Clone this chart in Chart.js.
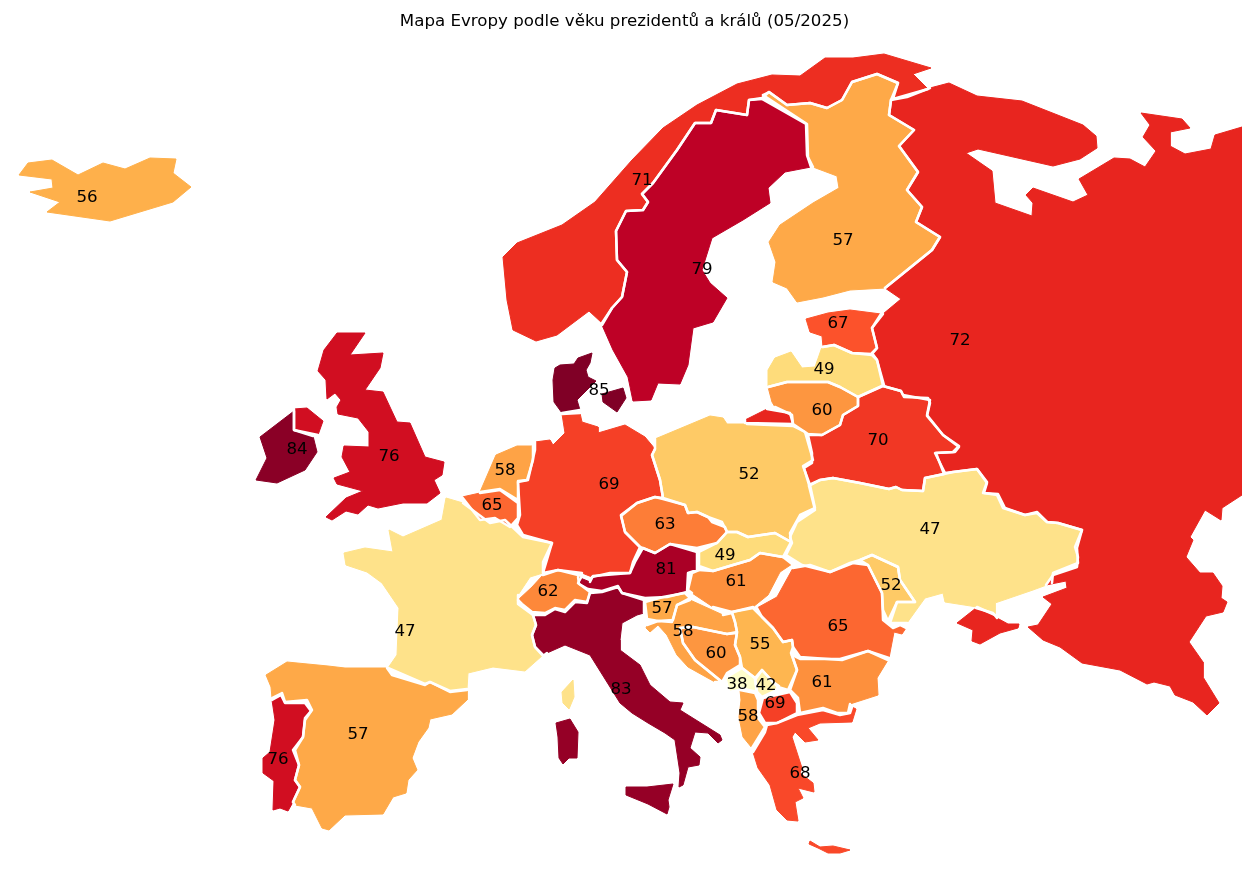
<!DOCTYPE html>
<html>
<head>
<meta charset="utf-8">
<title>Mapa Evropy</title>
<script src="https://cdn.jsdelivr.net/npm/chart.js@4/dist/chart.umd.min.js"></script>
<style>
  html, body { margin: 0; padding: 0; background: #fff; overflow: hidden; }
  canvas { display: block; }
</style>
</head>
<body>
<canvas id="mapChart" width="1242" height="882"></canvas>
<script>
// Country outlines in map units
const iceland = [[[19,175],[28,163],[52,160],[78,175],[103,163],[125,169],[150,158],[176,159],[173,173],[191,187],[173,202],[110,221],[47,212],[60,202],[30,192],[53,188],[52,179]]];
const norway = [[[503,257],[517,243],[562,225],[595,202],[632,160],[663,128],[697,105],[737,84],[772,75],[800,76],[825,58],[853,58],[884,54],[931,68],[913,74],[928,89],[893,99],[898,83],[877,74],[852,82],[842,100],[827,108],[810,103],[787,105],[769,92],[762,98],[749,100],[747,115],[716,110],[711,123],[695,123],[677,150],[653,183],[642,194],[648,202],[643,210],[626,211],[616,231],[617,260],[627,272],[622,297],[612,308],[602,323],[589,311],[557,335],[536,341],[513,330],[507,300]]];
const sweden = [[[762,99],[749,100],[747,115],[716,110],[711,123],[695,123],[677,150],[653,183],[642,194],[648,202],[643,210],[626,211],[616,231],[617,260],[627,272],[622,297],[612,308],[602,325],[613,350],[628,377],[633,401],[651,400],[658,383],[680,384],[688,365],[693,328],[713,322],[727,298],[710,283],[702,270],[712,238],[743,220],[770,203],[768,188],[785,172],[811,167],[807,155],[806,124]]];
const finland = [[[763,95],[769,92],[787,105],[810,103],[827,108],[842,100],[852,82],[877,74],[898,83],[891,100],[889,115],[914,130],[899,146],[918,172],[907,190],[922,207],[916,222],[940,237],[932,250],[885,288],[850,290],[823,297],[797,302],[787,288],[773,282],[776,262],[769,242],[780,225],[813,203],[839,188],[837,176],[813,167],[808,157],[807,124]]];
const russia = [
  [[891,100],[907,97],[930,88],[949,83],[977,96],[1022,101],[1083,125],[1096,136],[1097,148],[1080,159],[1053,166],[978,149],[966,153],[992,171],[995,203],[1032,216],[1033,203],[1026,195],[1033,188],[1073,202],[1088,195],[1079,179],[1114,158],[1130,159],[1145,167],[1156,151],[1143,137],[1150,125],[1141,113],[1182,119],[1190,128],[1170,132],[1170,146],[1185,154],[1211,149],[1215,135],[1242,127],[1242,495],[1222,508],[1221,520],[1205,510],[1190,537],[1193,540],[1186,557],[1200,573],[1213,573],[1222,586],[1221,598],[1227,602],[1223,612],[1206,616],[1189,642],[1203,662],[1203,677],[1219,703],[1207,715],[1193,702],[1175,695],[1170,686],[1154,682],[1147,684],[1120,670],[1082,663],[1060,647],[1043,640],[1028,627],[1038,625],[1052,604],[1043,597],[1067,588],[1066,581],[1046,585],[1053,575],[1077,567],[1078,557],[1075,547],[1082,530],[1058,523],[1047,522],[1037,513],[1025,515],[1003,508],[997,495],[984,493],[987,483],[977,469],[953,472],[945,473],[935,453],[955,452],[959,447],[943,435],[927,415],[930,400],[903,395],[901,391],[883,386],[877,360],[872,353],[877,348],[872,328],[883,314],[901,299],[885,288],[932,250],[940,237],[916,222],[922,207],[907,190],[918,172],[899,146],[914,130],[889,115]],
  [[745,420],[767,409],[790,413],[793,424],[745,423]],
  [[957,623],[976,608],[993,613],[997,618],[1008,624],[1019,624],[1018,628],[1000,633],[980,644],[972,641],[973,630]]
];
const uk = [
  [[337,333],[365,333],[350,355],[383,353],[380,368],[365,390],[383,392],[397,422],[410,423],[425,457],[444,462],[442,475],[434,480],[440,493],[427,503],[403,503],[378,508],[368,505],[358,514],[346,511],[332,520],[326,517],[346,498],[363,491],[337,484],[334,478],[350,472],[342,457],[344,446],[369,447],[369,432],[358,418],[338,414],[337,407],[341,400],[335,393],[327,399],[326,380],[318,371],[324,350]],
  [[294,409],[307,408],[323,421],[318,435],[294,430]]
];
const ireland = [[[294,411],[294,430],[313,436],[317,452],[305,470],[277,483],[256,480],[267,458],[260,437]]];
const denmark = [
  [[555,368],[560,365],[574,364],[578,358],[592,353],[590,363],[586,370],[588,377],[596,381],[577,400],[580,410],[562,413],[554,402],[553,380]],
  [[602,394],[623,388],[626,398],[617,412],[603,402]]
];
const estonia = [[[806,319],[828,313],[850,310],[881,314],[872,328],[877,348],[872,354],[852,353],[834,345],[823,347],[822,336],[810,332]]];
const latvia = [[[768,370],[775,358],[791,352],[802,368],[815,367],[822,347],[834,345],[852,353],[872,355],[877,360],[884,385],[858,397],[840,387],[828,382],[808,382],[787,382],[768,387]]];
const lithuania = [[[768,387],[787,382],[828,382],[840,387],[858,397],[858,406],[843,415],[840,425],[822,435],[808,434],[793,424],[792,415],[775,407],[772,402]]];
const belarus = [[[858,397],[883,386],[901,391],[904,397],[928,398],[930,403],[927,416],[943,435],[959,446],[953,452],[936,453],[944,474],[925,478],[923,491],[902,490],[896,487],[889,489],[860,483],[833,478],[820,480],[809,485],[804,468],[812,463],[812,453],[808,435],[822,435],[840,425],[843,415],[858,406]]];
const ukraine = [[[809,486],[820,480],[833,478],[860,483],[889,489],[896,487],[902,490],[923,491],[925,478],[944,474],[953,472],[977,469],[987,482],[983,493],[998,494],[1005,508],[1025,515],[1037,512],[1047,522],[1058,523],[1082,530],[1077,548],[1078,563],[1053,573],[1052,583],[1033,590],[995,603],[995,615],[977,607],[945,602],[943,593],[925,598],[907,623],[890,623],[897,602],[915,602],[900,580],[898,567],[872,555],[860,560],[850,563],[830,572],[802,565],[786,555],[792,543],[790,537],[797,522],[815,510]]];
const moldova = [[[860,560],[872,555],[898,567],[900,580],[915,602],[897,602],[888,621],[883,610],[882,593],[868,565]]];
const poland = [[[655,439],[710,416],[723,418],[727,424],[747,424],[793,426],[805,432],[813,460],[803,466],[810,485],[815,508],[800,515],[790,533],[791,542],[775,533],[748,537],[737,532],[727,532],[722,522],[708,517],[697,512],[688,513],[685,505],[663,498],[660,480],[652,455],[655,449]]];
const germany = [[[562,414],[580,413],[582,422],[598,427],[598,433],[625,425],[645,437],[655,449],[652,455],[660,480],[663,498],[655,497],[637,503],[621,515],[625,532],[640,547],[633,562],[630,573],[610,573],[592,577],[582,573],[558,570],[543,573],[552,543],[523,535],[517,525],[520,515],[518,482],[528,480],[535,450],[535,442],[550,440],[553,445],[565,433]]];
const netherlands = [[[480,492],[496,455],[517,446],[533,446],[533,460],[527,480],[518,481],[518,500],[500,489]]];
const belgium = [[[462,497],[480,493],[500,490],[518,503],[518,518],[510,527],[495,518],[480,520]]];
const france = [
  [[344,553],[365,548],[393,552],[389,530],[403,537],[442,520],[446,498],[463,503],[490,523],[505,520],[523,537],[552,543],[543,562],[543,573],[530,577],[518,595],[518,604],[533,615],[536,625],[532,635],[535,647],[543,655],[525,671],[493,667],[468,673],[467,689],[450,691],[430,682],[425,684],[388,668],[397,655],[399,608],[382,583],[367,572],[346,565]],
  [[573,680],[574,697],[569,709],[563,703],[562,692]]
];
const spain = [[[266,675],[287,662],[328,666],[345,668],[387,668],[392,675],[425,685],[430,682],[450,692],[467,690],[467,700],[452,714],[430,719],[428,728],[418,742],[412,758],[417,770],[408,780],[406,793],[393,797],[383,814],[345,815],[329,830],[322,828],[312,808],[295,805],[293,802],[300,787],[295,780],[299,765],[293,750],[303,737],[305,720],[312,710],[307,700],[285,702],[282,693],[272,698],[271,687]]];
const portugal = [[[272,700],[281,695],[285,703],[305,703],[311,711],[305,718],[303,737],[295,750],[299,765],[295,780],[300,787],[293,802],[288,811],[280,808],[273,810],[274,781],[263,773],[263,758],[270,752],[275,720]]];
const switzerland = [[[518,600],[532,587],[543,575],[558,570],[582,576],[578,583],[590,592],[587,602],[575,600],[565,610],[555,608],[545,613],[532,612],[522,604]]];
const austria = [[[578,577],[590,582],[593,576],[630,573],[635,562],[643,548],[655,553],[670,544],[697,552],[697,570],[688,573],[687,592],[667,597],[645,598],[622,593],[618,586],[602,591],[588,589],[579,584]]];
const italy = [
  [[533,615],[545,615],[555,609],[565,612],[575,602],[587,603],[590,593],[602,592],[618,587],[622,593],[644,600],[644,613],[637,615],[622,623],[620,640],[620,650],[640,665],[650,685],[670,702],[683,703],[680,710],[720,735],[722,740],[718,743],[708,733],[695,732],[690,748],[700,757],[699,765],[688,767],[683,785],[679,787],[680,773],[675,740],[665,733],[648,723],[632,713],[620,703],[590,655],[565,645],[547,653],[543,656],[535,647],[532,635],[536,625]],
  [[556,723],[570,719],[578,732],[577,758],[569,758],[563,764],[559,758],[558,737]],
  [[626,787],[647,787],[673,784],[668,800],[669,807],[667,814],[648,804],[626,795]]
];
const czechia = [[[621,516],[637,503],[655,497],[663,499],[685,505],[688,513],[697,512],[708,517],[712,522],[725,527],[727,532],[717,543],[697,548],[670,544],[655,553],[640,547],[625,532]]];
const slovakia = [[[699,552],[717,543],[727,532],[737,532],[748,537],[775,533],[791,542],[783,557],[760,553],[750,560],[733,565],[713,571],[699,566]]];
const hungary = [[[699,570],[713,571],[733,565],[750,560],[760,553],[783,557],[792,564],[780,572],[768,595],[753,607],[732,612],[713,607],[692,593],[688,590],[692,573]]];
const slovenia = [[[645,602],[647,619],[658,621],[673,620],[677,605],[690,598],[685,593],[663,597]]];
const croatia = [[[647,625],[658,621],[672,622],[677,605],[690,600],[723,615],[732,613],[735,622],[737,632],[727,634],[693,627],[680,628],[683,643],[695,660],[722,682],[715,682],[688,667],[677,655],[667,635],[658,625],[650,632],[646,628]]];
const bosnia = [[[680,628],[693,627],[727,634],[737,633],[735,645],[740,657],[740,665],[727,673],[722,682],[695,660],[683,643]]];
const serbia = [[[732,612],[753,608],[762,617],[773,628],[783,642],[792,640],[793,647],[791,653],[797,670],[788,690],[778,687],[773,682],[762,670],[755,678],[742,668],[740,657],[735,645],[737,632],[735,622]]];
const kosovo = [[[762,670],[773,682],[779,686],[775,691],[762,697],[757,692],[755,680]]];
const montenegro = [[[742,668],[755,678],[757,692],[740,688],[730,690],[727,677]]];
const albania = [[[740,690],[755,693],[758,700],[758,718],[765,727],[752,748],[743,737],[739,717],[741,700]]];
const macedonia = [[[763,698],[790,692],[797,703],[797,713],[777,723],[765,723],[759,713]]];
const greece = [
  [[753,752],[765,732],[767,725],[777,723],[797,715],[823,710],[840,715],[850,713],[852,707],[856,709],[852,722],[820,723],[808,728],[818,740],[805,742],[795,732],[792,737],[802,768],[800,773],[813,783],[814,792],[798,788],[803,798],[795,802],[798,821],[787,820],[777,810],[770,785],[758,768]],
  [[810,841],[820,847],[833,846],[850,850],[840,853],[828,853],[818,848],[809,844]]
];
const bulgaria = [[[792,655],[800,659],[840,659],[868,651],[888,660],[877,678],[878,695],[850,704],[848,713],[837,713],[823,708],[800,713],[798,698],[790,690],[797,670]]];
const romania = [[[757,608],[777,597],[793,568],[810,565],[830,572],[853,563],[868,565],[882,593],[883,620],[893,628],[900,625],[906,628],[902,634],[894,632],[889,658],[868,651],[842,660],[800,657],[793,647],[792,640],[783,642],[773,628],[762,617]]];

const countryOutlines = [iceland, norway, sweden, finland, russia, uk, ireland, denmark, estonia, latvia, lithuania, belarus, ukraine, moldova, poland, germany, netherlands, belgium, france, spain, portugal, switzerland, austria, italy, czechia, slovakia, hungary, slovenia, croatia, bosnia, serbia, kosovo, montenegro, albania, macedonia, greece, bulgaria, romania];
const countryNames = ['Island', 'Norsko', 'Švédsko', 'Finsko', 'Rusko', 'Velká Británie', 'Irsko', 'Dánsko', 'Estonsko', 'Lotyšsko', 'Litva', 'Bělorusko', 'Ukrajina', 'Moldavsko', 'Polsko', 'Německo', 'Nizozemsko', 'Belgie', 'Francie', 'Španělsko', 'Portugalsko', 'Švýcarsko', 'Rakousko', 'Itálie', 'Česko', 'Slovensko', 'Maďarsko', 'Slovinsko', 'Chorvatsko', 'Bosna a Hercegovina', 'Srbsko', 'Kosovo', 'Černá Hora', 'Albánie', 'Severní Makedonie', 'Řecko', 'Bulharsko', 'Rumunsko'];
const countryAges = [56, 71, 79, 57, 72, 76, 84, 85, 67, 49, 60, 70, 47, 52, 52, 69, 58, 65, 47, 57, 76, 62, 81, 83, 63, 49, 61, 57, 58, 60, 55, 42, 38, 58, 69, 68, 61, 65];
const labelX = [87, 642, 702, 843, 960, 389, 297, 599, 838, 824, 822, 878, 930, 891, 749, 609, 505, 492, 405, 358, 278, 548, 666, 621, 665, 725, 736, 662, 683, 716, 760, 766, 737, 748, 775, 800, 822, 838];
const labelY = [198, 181, 270, 241, 341, 457, 450, 391, 324, 370, 411, 441, 530, 586, 475, 485, 471, 506, 632, 735, 760, 592, 570, 690, 525, 556, 582, 609, 632, 654, 645, 686, 685, 717, 704, 774, 683, 627];

// YlOrRd stops, age range of the map is 38-85
const colorStops = [[255,255,204],[255,237,160],[254,217,118],[254,178,76],[253,141,60],[252,78,42],[227,26,28],[189,0,38],[128,0,38]];
const minAge = 38;
const maxAge = 85;

function ageColor(age) {
  const t = (age - minAge) / (maxAge - minAge) * (colorStops.length - 1);
  const i = Math.min(Math.floor(t), colorStops.length - 2);
  const f = t - i;
  const rgb = colorStops[i].map((c, k) => Math.round(c + (colorStops[i + 1][k] - c) * f));
  return `rgb(${rgb.join(',')})`;
}

function distToSegment(p, a, b) {
  const dx = b[0] - a[0], dy = b[1] - a[1];
  const len = dx * dx + dy * dy;
  const t = len ? Math.max(0, Math.min(1, ((p[0] - a[0]) * dx + (p[1] - a[1]) * dy) / len)) : 0;
  return Math.hypot(p[0] - a[0] - t * dx, p[1] - a[1] - t * dy);
}

function nearOtherCountry(p, c) {
  return countryOutlines.some((rings, other) => other !== c && rings.some(ring =>
    ring.some((a, i) => distToSegment(p, a, ring[(i + 1) % ring.length]) < 5)));
}

// land borders get the white line, coasts stay in the land colour
function isLandBorder(a, b, c) {
  return [0.25, 0.5, 0.75].every(t =>
    nearOtherCountry([a[0] + (b[0] - a[0]) * t, a[1] + (b[1] - a[1]) * t], c));
}

const datasets = [];
countryOutlines.forEach((rings, c) => {
  rings.forEach(ring => {
    const closed = ring.concat([ring[0]]);
    const points = closed.map(p => ({ x: p[0], y: p[1] }));
    const color = ageColor(countryAges[c]);
    const borderFlags = ring.map((a, i) => isLandBorder(a, closed[i + 1], c));
    datasets.push({
      label: countryNames[c],
      data: points,
      order: 1,
      showLine: true,
      fill: 'shape',
      backgroundColor: color,
      borderColor: color,
      borderWidth: 1,
      borderJoinStyle: 'round',
      pointRadius: 0
    });
    datasets.push({
      label: countryNames[c] + ' hranice',
      data: points,
      order: 0,
      showLine: true,
      fill: false,
      borderColor: '#fff',
      borderWidth: 2.5,
      borderJoinStyle: 'round',
      borderCapStyle: 'round',
      pointRadius: 0,
      segment: {
        borderColor: ctx => borderFlags[ctx.p0DataIndex] ? '#fff' : 'rgba(255,255,255,0)'
      }
    });
  });
});

const ageLabels = {
  id: 'ageLabels',
  afterDatasetsDraw(chart) {
    const { ctx, scales } = chart;
    ctx.save();
    ctx.fillStyle = '#000';
    ctx.font = '16.67px "DejaVu Sans"';
    ctx.textAlign = 'center';
    ctx.textBaseline = 'middle';
    countryAges.forEach((age, i) => {
      ctx.fillText(String(age), scales.x.getPixelForValue(labelX[i]), scales.y.getPixelForValue(labelY[i]));
    });
    ctx.restore();
  }
};

new Chart(document.getElementById('mapChart'), {
  type: 'scatter',
  data: { datasets: datasets },
  plugins: [ageLabels],
  options: {
    responsive: false,
    animation: false,
    layout: { padding: { left: 7 } },
    plugins: {
      legend: { display: false },
      tooltip: { enabled: false },
      title: {
        display: true,
        text: 'Mapa Evropy podle věku prezidentů a králů (05/2025)',
        color: '#000',
        font: { family: '"DejaVu Sans"', size: 16.67, weight: 'normal', lineHeight: 20 / 16.67 },
        padding: { top: 12, bottom: 8 }
      }
    },
    scales: {
      x: { type: 'linear', display: false, min: 7, max: 1242 },
      y: { type: 'linear', display: false, min: 40, max: 882, reverse: true }
    }
  }
});
</script>
</body>
</html>
